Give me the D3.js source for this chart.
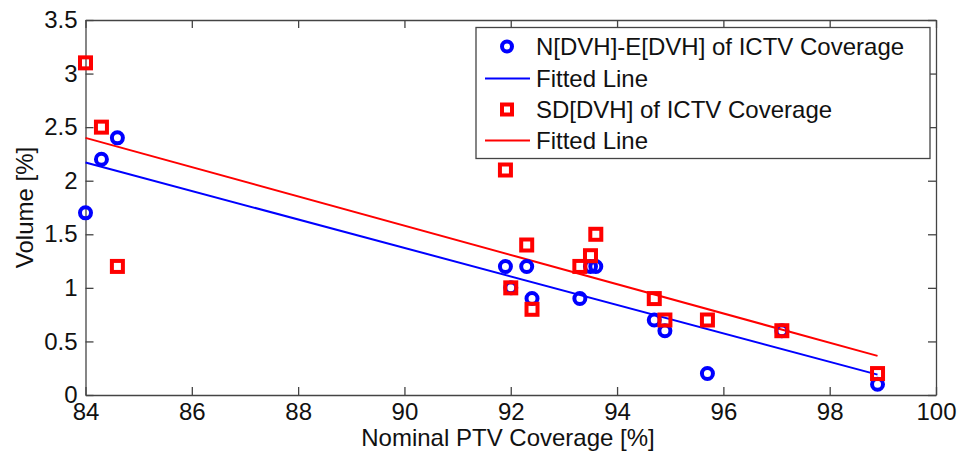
<!DOCTYPE html>
<html>
<head>
<meta charset="utf-8">
<script src="https://cdnjs.cloudflare.com/ajax/libs/d3/7.8.5/d3.min.js"></script>
<style>
  body { margin: 0; background: #fff; }
  text { font-family: "Liberation Sans", Arial, sans-serif; fill: #111; }
</style>
</head>
<body>
<div id="chart"></div>
<script>
// data
var coverage = [84.0, 84.3, 84.6, 91.9, 92.0, 92.3, 92.4, 93.3, 93.5, 93.6, 94.7, 94.9, 95.7, 97.1, 98.9];
var diffVals = [1.7, 2.2, 2.4, 1.2, 1.0, 1.2, 0.9, 0.9, 1.2, 1.2, 0.7, 0.6, 0.2, 0.6, 0.1];
var sdCoverage = [84.0, 84.3, 84.6, 91.9, 92.0, 92.3, 92.4, 93.3, 93.5, 93.6, 94.7, 94.9, 95.7, 97.1, 98.9];
var sdVals = [3.1, 2.5, 1.2, 2.1, 1.0, 1.4, 0.8, 1.2, 1.3, 1.5, 0.9, 0.7, 0.7, 0.6, 0.2];
var fitDiff = [[84.0, 2.17], [98.9, 0.19]];
var fitSd = [[84.0, 2.40], [98.9, 0.365]];
var xTicks = [84, 86, 88, 90, 92, 94, 96, 98, 100];
var yTicks = [0, 0.5, 1, 1.5, 2, 2.5, 3, 3.5];
var legendLabels = ["N[DVH]-E[DVH] of ICTV Coverage", "Fitted Line", "SD[DVH] of ICTV Coverage", "Fitted Line"];

var W = 960, H = 455;
var margin = { top: 20, right: 24, bottom: 60, left: 85.5 };
var width = W - margin.left - margin.right;
var height = H - margin.top - margin.bottom;

var svg = d3.select("#chart").append("svg")
    .attr("width", W)
    .attr("height", H)
    .append("g")
    .attr("transform", "translate(" + margin.left + "," + margin.top + ")");

var x = d3.scaleLinear().domain([84, 100]).range([0, width]);
var y = d3.scaleLinear().domain([0, 3.5]).range([height, 0]);

var axisColor = "#444";
var fontSize = 24;

// axes with inward ticks, MATLAB style box
var xAxis = d3.axisBottom(x).tickValues(xTicks).tickSizeInner(-8).tickSizeOuter(0).tickPadding(8)
    .tickFormat(d3.format("d"));
var yAxis = d3.axisLeft(y).tickValues(yTicks).tickSizeInner(-8).tickSizeOuter(0).tickPadding(8)
    .tickFormat(function(d) { return d; });
var xTop = d3.axisTop(x).tickValues(xTicks).tickSizeInner(-8).tickSizeOuter(0).tickFormat("");
var yRight = d3.axisRight(y).tickValues(yTicks).tickSizeInner(-8).tickSizeOuter(0).tickFormat("");

function styleAxis(g) {
    g.selectAll("path, line").attr("stroke", axisColor).attr("stroke-width", 1.3);
    g.selectAll("text").attr("font-size", fontSize).attr("fill", "#111")
        .style("font-family", "'Liberation Sans', Arial, sans-serif");
}

svg.append("g").attr("transform", "translate(0," + height + ")").call(xAxis).call(styleAxis);
svg.append("g").call(yAxis).call(styleAxis);
svg.append("g").call(xTop).call(styleAxis);
svg.append("g").attr("transform", "translate(" + width + ",0)").call(yRight).call(styleAxis);

// axis titles
svg.append("text")
    .attr("x", 508 - margin.left)
    .attr("y", 446 - margin.top)
    .attr("text-anchor", "middle")
    .attr("font-size", fontSize)
    .text("Nominal PTV Coverage [%]");

svg.append("text")
    .attr("transform", "translate(" + (33 - margin.left) + "," + (height / 2) + ") rotate(-90)")
    .attr("text-anchor", "middle")
    .attr("font-size", fontSize)
    .text("Volume [%]");

// fitted lines
var line = d3.line()
    .x(function(d) { return x(d[0]); })
    .y(function(d) { return y(d[1]); });

svg.append("path").datum(fitDiff)
    .attr("d", line).attr("fill", "none").attr("stroke", "#0000ff").attr("stroke-width", 2);
svg.append("path").datum(fitSd)
    .attr("d", line).attr("fill", "none").attr("stroke", "#ff0000").attr("stroke-width", 2);

// markers
var diffData = coverage.map(function(c, i) { return { x: c, y: diffVals[i] }; });
var sdData = sdCoverage.map(function(c, i) { return { x: c, y: sdVals[i] }; });

svg.selectAll(".pt-diff").data(diffData).enter().append("circle")
    .attr("class", "pt-diff")
    .attr("cx", function(d) { return x(d.x); })
    .attr("cy", function(d) { return y(d.y); })
    .attr("r", 5.5)
    .attr("fill", "none")
    .attr("stroke", "#0000ff")
    .attr("stroke-width", 4);

var sq = 11;
svg.selectAll(".pt-sd").data(sdData).enter().append("rect")
    .attr("class", "pt-sd")
    .attr("x", function(d) { return x(d.x) - sq / 2; })
    .attr("y", function(d) { return y(d.y) - sq / 2; })
    .attr("width", sq)
    .attr("height", sq)
    .attr("fill", "none")
    .attr("stroke", "#ff0000")
    .attr("stroke-width", 4);

// legend
var lg = svg.append("g").attr("transform", "translate(" + (476 - margin.left) + "," + (27.5 - margin.top) + ")");
lg.append("rect")
    .attr("width", 454).attr("height", 131)
    .attr("fill", "#fff").attr("stroke", axisColor).attr("stroke-width", 1.3);

var rowY = [19, 51, 82, 113];
var lgColors = ["#0000ff", "#0000ff", "#ff0000", "#ff0000"];
legendLabels.forEach(function(label, i) {
    var ry = rowY[i];
    if (i === 0) {
        lg.append("circle").attr("cx", 31).attr("cy", ry).attr("r", 5)
            .attr("fill", "none").attr("stroke", lgColors[i]).attr("stroke-width", 4);
    } else if (i === 2) {
        lg.append("rect").attr("x", 31 - 5).attr("y", ry - 5).attr("width", 10).attr("height", 10)
            .attr("fill", "none").attr("stroke", lgColors[i]).attr("stroke-width", 4);
    } else {
        lg.append("line").attr("x1", 9).attr("x2", 54).attr("y1", ry).attr("y2", ry)
            .attr("stroke", lgColors[i]).attr("stroke-width", 2);
    }
    lg.append("text")
        .attr("x", 60)
        .attr("y", ry)
        .attr("dy", "0.36em")
        .attr("font-size", fontSize)
        .text(label);
});
</script>
</body>
</html>
